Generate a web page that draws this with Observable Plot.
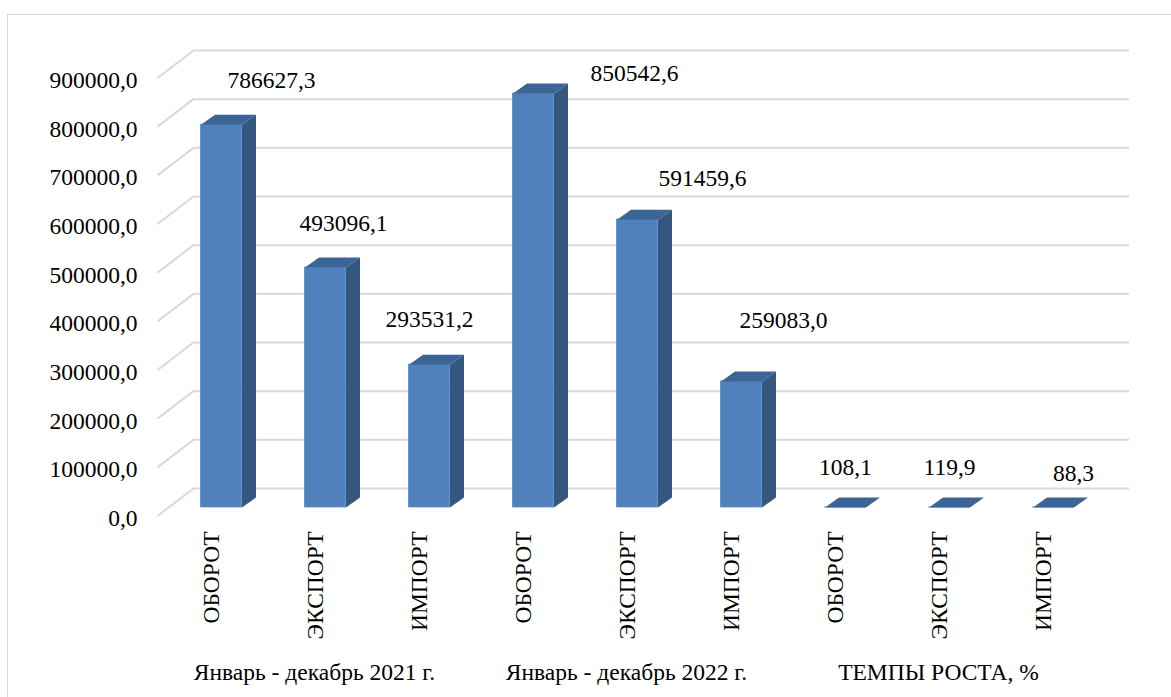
<!DOCTYPE html>
<html><head><meta charset="utf-8">
<script src="https://cdn.jsdelivr.net/npm/d3@7"></script>
<script src="https://cdn.jsdelivr.net/npm/@observablehq/plot@0.6"></script>
<style>
html,body{margin:0;padding:0;background:#fff;}
#wrap{position:relative;width:1171px;height:697px;overflow:hidden;background:#fff;}
#border{position:absolute;left:7px;top:14px;width:1300px;height:800px;border-top:1.5px solid #d9d9d9;border-left:1.5px solid #d9d9d9;}
#chart{position:absolute;left:0;top:0;}
</style></head><body>
<div id="wrap"><div id="border"></div><div id="chart"></div></div>
<script>
// ---- data ----
const groups = ["Январь - декабрь 2021 г.", "Январь - декабрь 2022 г.", "ТЕМПЫ РОСТА, %"];
const indicators = ["ОБОРОТ", "ЭКСПОРТ", "ИМПОРТ"];
const values2021 = [786627.3, 493096.1, 293531.2];
const values2022 = [850542.6, 591459.6, 259083.0];
const growthRates = [108.1, 119.9, 88.3];
const yTicks = [0, 100000, 200000, 300000, 400000, 500000, 600000, 700000, 800000, 900000];

// ---- table ----
const series = [values2021, values2022, growthRates];
const bars = [];
series.forEach((vals, g) => vals.forEach((v, k) => bars.push({i: g * 3 + k, group: groups[g], indicator: indicators[k], value: v})));

// ---- pick an installed serif face (Times-like) ----
function pickFont(cands) {
  const c = document.createElement("canvas").getContext("2d");
  const probe = "ОБОРОТ ЭКСПОРТ 900000,0 Январь";
  for (const base of ["monospace", "sans-serif"]) {
    c.font = `40px ${base}`;
    const w0 = c.measureText(probe).width;
    for (const f of cands) {
      c.font = `40px "${f}", ${base}`;
      if (Math.abs(c.measureText(probe).width - w0) > 0.5) return f;
    }
  }
  return cands[0];
}
const FAMILY = pickFont(["Liberation Serif", "Tinos", "Times New Roman", "Noto Serif", "DejaVu Serif", "FreeSerif", "Nimbus Roman"]);
const FAMILY_CSS = `"${FAMILY}", "Liberation Serif", "DejaVu Serif", serif`;

// ---- layout (pixels) ----
const W = 1171, H = 697;
const xDomain = [-0.5, 8.5], xRange = [169, 1105];
const yDomain = [0, 900000], yRange = [507, 69];
const kx = (xDomain[1] - xDomain[0]) / (xRange[1] - xRange[0]);
const ky = (yDomain[1] - yDomain[0]) / (yRange[0] - yRange[1]);
const BAR_W = 41, DEPTH_X = 14, DEPTH_Y = 10;
const FRONT = {dx: -12, dy: 8.5}, BACK = {dx: 24, dy: -19};
// manual label placement (pixel nudges from front-top of each bar), like the original
const labelOffsets = [[50, -44], [18, -44], [0, -45], [101, -20], [65, -41], [42, -61], [0, -40], [0, -40], [20, -34]];

const hw = BAR_W / 2 * kx, ddx = DEPTH_X * kx, ddy = DEPTH_Y * ky;
const sideFaces = bars.flatMap(b => [[b.i + hw, 0], [b.i + hw + ddx, ddy], [b.i + hw + ddx, b.value + ddy], [b.i + hw, b.value]].map(([x, y]) => ({id: b.i, x, y})));
const topFaces = bars.flatMap(b => [[b.i - hw, b.value], [b.i - hw + ddx, b.value + ddy], [b.i + hw + ddx, b.value + ddy], [b.i + hw, b.value]].map(([x, y]) => ({id: b.i, x, y})));

const fmt = v => v.toFixed(1).replace(".", ",");
const FONT = 23.5;
const grid = "#d9d9d9";

const chart = Plot.plot({
  width: W, height: H,
  marginLeft: 0, marginRight: 0, marginTop: 0, marginBottom: 0,
  style: `font-family: ${FAMILY_CSS}; color: #000; background: transparent; overflow: visible;`,
  x: {type: "linear", domain: xDomain, range: xRange, axis: null},
  y: {type: "linear", domain: yDomain, range: yRange, axis: null},
  marks: [
    // back-wall gridlines
    Plot.ruleY(yTicks, {y: d => d, x1: () => xDomain[0], x2: () => xDomain[1], dx: BACK.dx, dy: BACK.dy, stroke: grid, strokeWidth: 2}),
    // side-wall diagonals
    Plot.link(yTicks, {
      x1: () => xDomain[0] + FRONT.dx * kx, y1: t => t - FRONT.dy * ky,
      x2: () => xDomain[0] + BACK.dx * kx, y2: t => t - BACK.dy * ky,
      stroke: grid, strokeWidth: 2
    }),
    // y tick labels on the front plane
    Plot.text(yTicks, {x: () => xDomain[0], y: d => d, text: fmt, textAnchor: "end", lineAnchor: "middle", dx: FRONT.dx - 20, dy: FRONT.dy + 2.5, fontSize: FONT, fontFamily: FAMILY_CSS, fill: "#000"}),
    // bars: side, front, top
    Plot.line(sideFaces, {x: "x", y: "y", z: "id", fill: "#34567f", stroke: "none"}),
    Plot.rect(bars, {x1: d => d.i - hw, x2: d => d.i + hw, y1: () => 0, y2: "value", fill: "#4f81bd", stroke: "#5a8cc8", strokeWidth: 0.8}),
    Plot.line(topFaces, {x: "x", y: "y", z: "id", fill: "#3c6597", stroke: "none"}),
    // value labels
    Plot.text(bars, {x: d => d.i + labelOffsets[d.i][0] * kx, y: d => d.value - labelOffsets[d.i][1] * ky, text: d => fmt(d.value), lineAnchor: "middle", fontSize: FONT, fontFamily: FAMILY_CSS, fill: "#000"}),
    // category labels
    Plot.text(bars, {x: "i", y: () => 0, text: "indicator", rotate: -90, textAnchor: "end", lineAnchor: "middle", dx: -10, dy: 24, fontSize: FONT, fontFamily: FAMILY_CSS, fill: "#000"}),
    // group labels
    Plot.text(groups, {x: (d, j) => j * 3 + 1, y: () => 0, text: d => d, lineAnchor: "middle", dx: -11, dy: 165, fontSize: FONT, fontFamily: FAMILY_CSS, fill: "#000"})
  ]
});
document.getElementById("chart").appendChild(chart);
</script>
</body></html>
